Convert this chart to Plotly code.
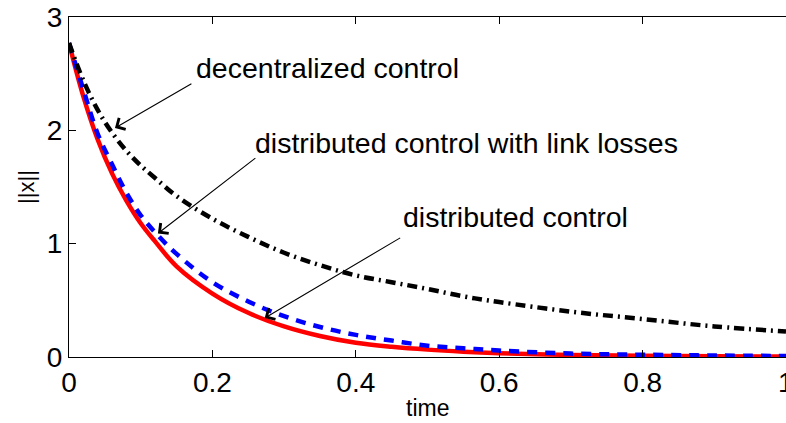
import plotly.graph_objects as go

# ---- data ----
time = [0, 0.02, 0.04, 0.06, 0.08, 0.10, 0.12, 0.15, 0.20, 0.25, 0.30, 0.35,
        0.40, 0.45, 0.50, 0.55, 0.60, 0.70, 0.80, 0.90, 1.00]
distributed = [2.77, 2.30, 1.92, 1.62, 1.38, 1.18, 1.02, 0.80, 0.56, 0.39, 0.27, 0.185,
               0.125, 0.09, 0.065, 0.047, 0.034, 0.018, 0.010, 0.006, 0.004]
distributed_losses = [2.77, 2.36, 1.97, 1.70, 1.45, 1.25, 1.10, 0.91, 0.66, 0.49, 0.36, 0.265,
                      0.195, 0.145, 0.10, 0.077, 0.057, 0.030, 0.020, 0.013, 0.009]
decentralized = [2.77, 2.44, 2.18, 1.98, 1.82, 1.69, 1.58, 1.42, 1.22, 1.06, 0.92, 0.81,
                 0.72, 0.66, 0.60, 0.535, 0.485, 0.40, 0.335, 0.27, 0.225]

x_ticks = [0, 0.2, 0.4, 0.6, 0.8, 1]
x_ticklabels = ["0", "0.2", "0.4", "0.6", "0.8", "1"]
y_ticks = [0, 1, 2, 3]
y_ticklabels = ["0", "1", "2", "3"]

labels = ["decentralized control", "distributed control with link losses", "distributed control"]
label_pos = [(0.174, 2.55), (0.257, 1.89), (0.463, 1.235)]
arrow_tail = [(0.1728, 2.418), (0.262, 1.765), (0.464, 1.059)]
arrow_tip = [(0.0641, 2.021), (0.124, 1.09), (0.273, 0.344)]

FONT = "Liberation Sans, Arial, Helvetica, sans-serif"

fig = go.Figure()
fig.add_trace(go.Scatter(x=time, y=distributed, mode="lines", line_shape="spline",
                         line=dict(color="#ff0000", width=4.5), showlegend=False))
fig.add_trace(go.Scatter(x=time, y=distributed_losses, mode="lines", line_shape="spline",
                         line=dict(color="#0000ff", width=4.5, dash="10px,8px"), showlegend=False))
fig.add_trace(go.Scatter(x=time, y=decentralized, mode="lines", line_shape="spline",
                         line=dict(color="#000000", width=4.5, dash="10px,5px,2px,5px"),
                         showlegend=False))

annotations = []
for txt, (tx, ty) in zip(labels, label_pos):
    annotations.append(dict(x=tx, y=ty, xref="x", yref="y", text=txt, showarrow=False,
                            xanchor="left", yanchor="middle",
                            font=dict(family=FONT, size=28.5, color="black")))
for (ax, ay), (hx, hy) in zip(arrow_tail, arrow_tip):
    annotations.append(dict(x=hx, y=hy, xref="x", yref="y", ax=ax, ay=ay,
                            axref="x", ayref="y", text="", showarrow=True,
                            arrowhead=4, arrowsize=2.3, arrowwidth=1.1, arrowcolor="black"))
# last x tick label sits on the window edge (half cut off, as in the reference)
annotations.append(dict(x=x_ticks[-1], y=-0.074, xref="x", yref="paper",
                        text=x_ticklabels[-1], showarrow=False,
                        xanchor="center", yanchor="middle",
                        font=dict(family=FONT, size=28, color="black")))
annotations.append(dict(x=0.5, y=-0.15, xref="paper", yref="paper", text="time",
                        showarrow=False, xanchor="center", yanchor="middle",
                        font=dict(family=FONT, size=23, color="black")))
annotations.append(dict(x=-0.06, y=0.5, xref="paper", yref="paper", text="||x||",
                        showarrow=False, xanchor="center", yanchor="middle", textangle=-90,
                        font=dict(family=FONT, size=22, color="black")))

fig.update_layout(
    width=786, height=423,
    margin=dict(l=69, r=0, t=17, b=66),
    paper_bgcolor="white", plot_bgcolor="white",
    font=dict(family=FONT, color="black"),
    annotations=annotations,
    xaxis=dict(range=[0, 1], tickvals=x_ticks, ticktext=x_ticklabels,
               showgrid=False, zeroline=False, showline=True, linecolor="black",
               linewidth=1.2, mirror="ticks", ticks="inside", ticklen=7, tickcolor="black",
               automargin=False,
               tickfont=dict(family=FONT, size=28, color="black")),
    yaxis=dict(range=[0, 3], tickvals=y_ticks, ticktext=y_ticklabels,
               showgrid=False, zeroline=False, showline=True, linecolor="black",
               linewidth=1.2, mirror=False, ticks="inside", ticklen=7, tickcolor="black",
               automargin=False,
               tickfont=dict(family=FONT, size=28, color="black")),
    yaxis2=dict(range=[0, 3], tickvals=y_ticks, overlaying="y", side="right", anchor="x",
                showgrid=False, zeroline=False, showline=False, ticks="inside", ticklen=7,
                tickcolor="black", showticklabels=False, automargin=False),
)

fig.write_html("out.html")
